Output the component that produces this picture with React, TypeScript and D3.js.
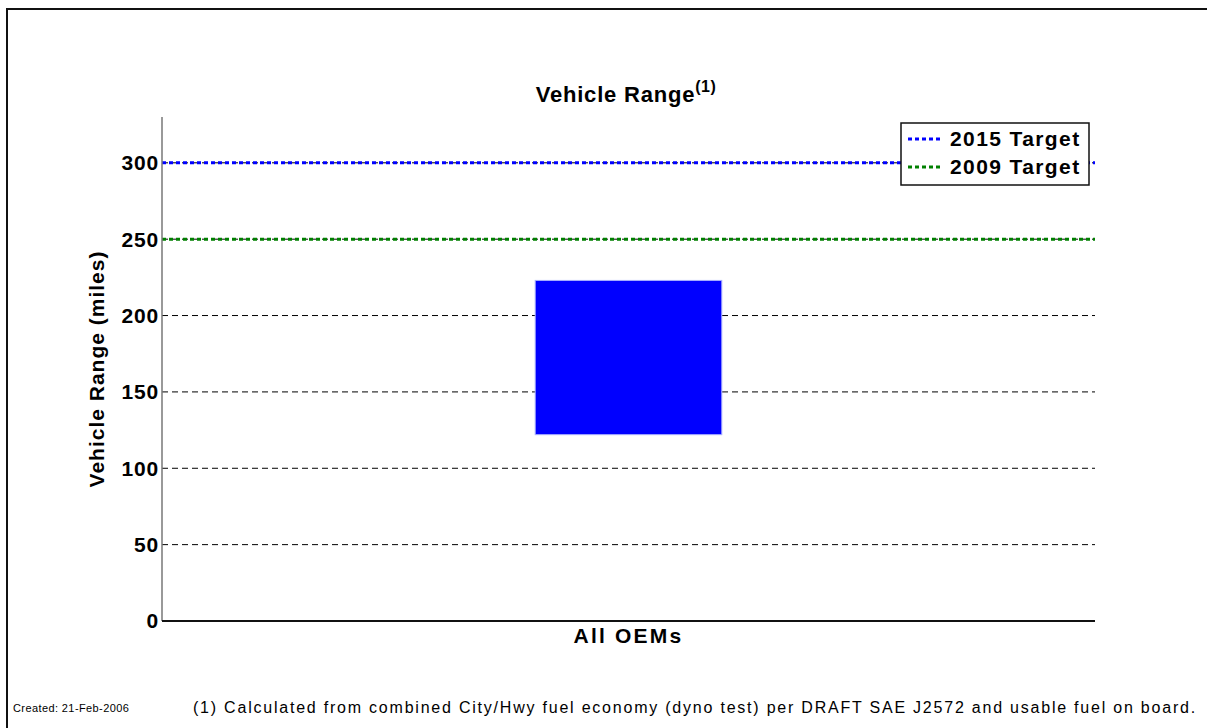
import React from "react";
import * as d3 from "d3";

const categories = ["All OEMs"];
const rangeLow = [122];
const rangeHigh = [223];
const yTicks = [0, 50, 100, 150, 200, 250, 300];
const targets = [
  { label: "2015 Target", value: 300, color: "#0000ff" },
  { label: "2009 Target", value: 250, color: "#008000" },
];

const W = 1207;
const H = 728;
const M = { left: 162, right: 1095, top: 117, bottom: 621 };
const FONT = "Arial, 'Liberation Sans', Helvetica, sans-serif";

export default function App() {
  const y = d3.scaleLinear().domain([0, 330]).range([M.bottom, M.top]);
  const x = d3
    .scaleBand<string>()
    .domain(categories)
    .range([M.left, M.right])
    .paddingInner(0)
    .paddingOuter(2);

  return (
    <svg
      width={W}
      height={H}
      style={{ position: "absolute", left: 0, top: 0, background: "#fff" }}
      fontFamily={FONT}
    >
      {/* frame */}
      <path d={`M7,${H} L7,9 L${W},9`} fill="none" stroke="#111" strokeWidth={2} />

      {/* title */}
      <text x={626} y={102} textAnchor="middle" fontSize={22} fontWeight="bold" letterSpacing={0.8}>
        Vehicle Range
        <tspan fontSize={16} dy={-10} letterSpacing={0.5}>(1)</tspan>
      </text>

      {/* gridlines */}
      {yTicks
        .filter((t) => t > 0)
        .map((t) => (
          <line
            key={t}
            x1={M.left}
            x2={M.right}
            y1={y(t)}
            y2={y(t)}
            stroke="#000"
            strokeWidth={1}
            strokeDasharray="6,4"
          />
        ))}

      {/* bars */}
      {categories.map((c, i) => (
        <rect
          key={c}
          x={x(c)}
          width={x.bandwidth()}
          y={y(rangeHigh[i])}
          height={y(rangeLow[i]) - y(rangeHigh[i])}
          fill="#0000ff"
          stroke="#aab0ff"
          strokeWidth={1}
        />
      ))}

      {/* target lines */}
      {targets.map((t) => (
        <line
          key={t.label}
          x1={M.left}
          x2={M.right}
          y1={y(t.value)}
          y2={y(t.value)}
          stroke={t.color}
          strokeWidth={3}
          strokeDasharray="4,3"
        />
      ))}

      {/* axes */}
      <line x1={M.left} x2={M.left} y1={M.top} y2={M.bottom} stroke="#777" strokeWidth={1.5} />
      <line x1={M.left} x2={M.right} y1={M.bottom} y2={M.bottom} stroke="#111" strokeWidth={2} />

      {/* y tick labels */}
      {yTicks.map((t) => (
        <text
          key={t}
          x={M.left - 3}
          y={y(t)}
          dy="0.35em"
          textAnchor="end"
          fontSize={21}
          fontWeight="bold"
          letterSpacing={0.8}
        >
          {t}
        </text>
      ))}

      {/* x labels */}
      {categories.map((c) => (
        <text
          key={c}
          x={(x(c) as number) + x.bandwidth() / 2}
          y={643}
          textAnchor="middle"
          fontSize={21}
          fontWeight="bold"
          letterSpacing={2.2}
        >
          {c}
        </text>
      ))}

      {/* y axis label */}
      <text
        transform={`translate(104,${(M.top + M.bottom) / 2}) rotate(-90)`}
        textAnchor="middle"
        fontSize={21}
        fontWeight="bold"
        letterSpacing={1}
      >
        Vehicle Range (miles)
      </text>

      {/* legend */}
      <rect x={901} y={123} width={188} height={62} fill="#fff" stroke="#111" strokeWidth={1.5} />
      {targets.map((t, i) => (
        <g key={t.label} transform={`translate(908,${139 + i * 28})`}>
          <line x1={0} x2={33} y1={0} y2={0} stroke={t.color} strokeWidth={3} strokeDasharray="4,3" />
          <text x={42} y={0} dy="0.35em" fontSize={21} fontWeight="bold" letterSpacing={1.4}>
            {t.label}
          </text>
        </g>
      ))}

      {/* footnotes */}
      <text x={13} y={712} fontSize={11} letterSpacing={0.4}>
        Created: 21-Feb-2006
      </text>
      <text x={193} y={713} fontSize={16} letterSpacing={1.78}>
        (1) Calculated from combined City/Hwy fuel economy (dyno test) per DRAFT SAE J2572 and usable fuel on board.
      </text>
    </svg>
  );
}
